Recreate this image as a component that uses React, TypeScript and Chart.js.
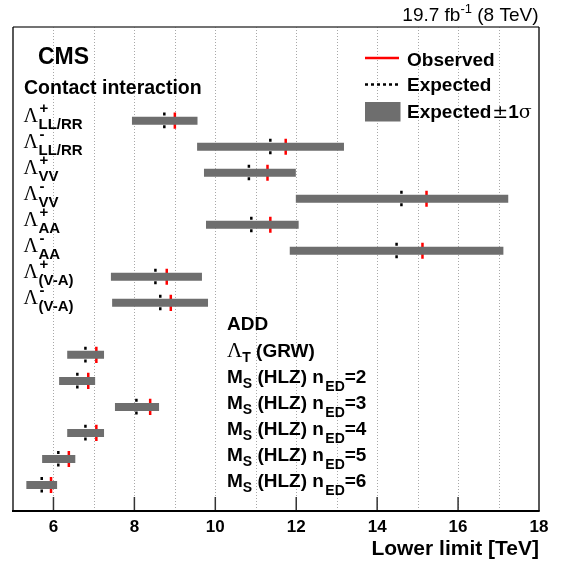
import React, { useEffect, useRef } from 'react';
import { Chart, registerables } from 'chart.js';

Chart.register(...registerables);

// ---------- data ----------
const contactSymbols = ['Λ', 'Λ', 'Λ', 'Λ', 'Λ', 'Λ', 'Λ', 'Λ'];
const contactSup = ['+', '-', '+', '-', '+', '-', '+', '-'];
const contactSub = ['LL/RR', 'LL/RR', 'VV', 'VV', 'AA', 'AA', '(V-A)', '(V-A)'];
const contactExpected = [8.74, 11.36, 10.83, 14.6, 10.89, 14.48, 8.52, 8.64];
const contactObserved = [9.0, 11.74, 11.29, 15.22, 11.36, 15.12, 8.8, 8.9];
const contactLow = [7.94, 9.55, 9.72, 11.99, 9.77, 11.84, 7.42, 7.45];
const contactHigh = [9.56, 13.18, 11.99, 17.24, 12.06, 17.12, 9.67, 9.82];

const addMain = ['Λ', 'M', 'M', 'M', 'M', 'M'];
const addMainSub = ['T', 'S', 'S', 'S', 'S', 'S'];
const addSuffix = [' (GRW)', ' (HLZ) n', ' (HLZ) n', ' (HLZ) n', ' (HLZ) n', ' (HLZ) n'];
const addNed = ['', '2', '3', '4', '5', '6'];
const addExpected = [6.79, 6.59, 8.05, 6.79, 6.12, 5.71];
const addObserved = [7.06, 6.86, 8.39, 7.06, 6.38, 5.94];
const addLow = [6.34, 6.14, 7.52, 6.34, 5.72, 5.33];
const addHigh = [7.25, 7.03, 8.61, 7.25, 6.54, 6.09];

const xTicks = [6, 8, 10, 12, 14, 16, 18];
const gridValues = [6, 7, 8, 9, 10, 11, 12, 13, 14, 15, 16, 17];
const X_MIN = 5;
const X_MAX = 18;

// ---------- styles ----------
const SANS = '"Liberation Sans", Arial, Helvetica, sans-serif';
const SERIF = '"Liberation Serif", "Times New Roman", serif';
const SYMBOL = '"DejaVu Serif", "Liberation Serif", serif';
const GRAY = '#6e6e6e';
const RED = '#ff0000';
const Y_MAX = 18.6;
const HALF = 0.31;

type Part = [string, string, number];

function drawParts(ctx: CanvasRenderingContext2D, x: number, y: number, parts: Part[], align: 'left' | 'right' = 'left') {
  let total = 0;
  const widths = parts.map(([t, f]) => {
    ctx.font = f;
    const w = ctx.measureText(t).width;
    total += w;
    return w;
  });
  let cx = align === 'right' ? x - total : x;
  parts.forEach(([t, f, dy], i) => {
    ctx.font = f;
    ctx.fillText(t, cx, y + dy);
    cx += widths[i];
  });
}

export default function App() {
  const ref = useRef<HTMLCanvasElement | null>(null);

  useEffect(() => {
    if (!ref.current) return;

    const contactPos = contactExpected.map((_, i) => 15 - i);
    const addPos = addExpected.map((_, j) => 6 - j);

    const rows = [
      ...contactExpected.map((e, i) => ({ pos: contactPos[i], lo: contactLow[i], hi: contactHigh[i], exp: e, obs: contactObserved[i] })),
      ...addExpected.map((e, j) => ({ pos: addPos[j], lo: addLow[j], hi: addHigh[j], exp: e, obs: addObserved[j] })),
    ];

    const band = rows.flatMap((r) => [
      { x: r.lo, y: r.pos },
      { x: r.hi, y: r.pos },
      { x: r.hi, y: null },
    ]);
    const expData = rows.flatMap((r) => [
      { x: r.exp, y: r.pos + HALF },
      { x: r.exp, y: r.pos - HALF },
      { x: r.exp, y: null },
    ]);
    const obsData = rows.flatMap((r) => [
      { x: r.obs, y: r.pos + HALF },
      { x: r.obs, y: r.pos - HALF },
      { x: r.obs, y: null },
    ]);

    const decor = {
      id: 'cmsDecor',
      beforeDatasetsDraw(chart: any) {
        const { ctx, chartArea: a, scales } = chart;
        const xs = scales.x;
        ctx.save();
        ctx.strokeStyle = '#a8a8a8';
        ctx.lineWidth = 1;
        ctx.setLineDash([1, 2]);
        for (const v of gridValues) {
          const px = Math.round(xs.getPixelForValue(v)) + 0.5;
          ctx.beginPath();
          ctx.moveTo(px, a.top);
          ctx.lineTo(px, a.bottom);
          ctx.stroke();
        }
        ctx.restore();
      },
      afterDatasetsDraw(chart: any) {
        const { ctx, chartArea: a, scales } = chart;
        const xs = scales.x;
        const ys = scales.y;
        ctx.save();

        // tick marks (upward from the bottom axis)
        ctx.strokeStyle = '#333';
        ctx.lineWidth = 1.5;
        for (const v of xTicks) {
          if (v >= X_MAX) continue;
          const px = xs.getPixelForValue(v);
          ctx.beginPath();
          ctx.moveTo(px, a.bottom);
          ctx.lineTo(px, a.bottom - 14);
          ctx.stroke();
        }

        // frame
        ctx.strokeStyle = '#444';
        ctx.lineWidth = 1.5;
        ctx.beginPath();
        ctx.moveTo(a.left, a.top);
        ctx.lineTo(a.right, a.top);
        ctx.stroke();
        ctx.strokeStyle = '#000';
        ctx.lineWidth = 1.3;
        ctx.beginPath();
        ctx.moveTo(a.left, a.top);
        ctx.lineTo(a.left, a.bottom);
        ctx.moveTo(a.right, a.top);
        ctx.lineTo(a.right, a.bottom);
        ctx.stroke();
        ctx.lineWidth = 2;
        ctx.beginPath();
        ctx.moveTo(a.left - 1, a.bottom);
        ctx.lineTo(a.right + 0.7, a.bottom);
        ctx.stroke();

        ctx.fillStyle = '#000';
        ctx.textBaseline = 'alphabetic';
        ctx.textAlign = 'left';

        // header texts
        drawParts(ctx, 538.5, 21, [
          ['19.7 fb', `19px ${SANS}`, 0],
          ['-1', `13px ${SANS}`, -8],
          [' (8 TeV)', `19px ${SANS}`, 0],
        ], 'right');
        drawParts(ctx, 38, 64, [['CMS', `bold 23px ${SANS}`, 0]]);
        drawParts(ctx, 24, 94, [['Contact interaction', `bold 19.5px ${SANS}`, 0]]);

        // contact labels
        contactSymbols.forEach((s, i) => {
          const py = ys.getPixelForValue(contactPos[i]);
          ctx.font = `20px ${SERIF}`;
          ctx.fillText(s, 23.5, py + 1);
          ctx.font = `bold 15px ${SANS}`;
          ctx.fillText(contactSup[i], 39.5, py - 7.5);
          ctx.fillText(contactSub[i], 38.5, py + 8.5);
        });

        // ADD block
        drawParts(ctx, 227, ys.getPixelForValue(7) + 1.5, [['ADD', `bold 19px ${SANS}`, 0]]);
        addMain.forEach((m, j) => {
          const py = ys.getPixelForValue(addPos[j]) + 2.5;
          const parts: Part[] = [
            [m, m === 'Λ' ? `21px ${SERIF}` : `bold 19px ${SANS}`, 0],
            [addMainSub[j], `bold 14px ${SANS}`, 5],
            [addSuffix[j], `bold 19px ${SANS}`, 0],
          ];
          if (addNed[j]) {
            parts.push([' ', `5px ${SANS}`, 0]);
            parts.push(['ED', `bold 14px ${SANS}`, 7.5]);
            parts.push(['=' + addNed[j], `bold 19px ${SANS}`, 0]);
          }
          drawParts(ctx, 227, py, parts);
        });

        // legend
        ctx.strokeStyle = RED;
        ctx.lineWidth = 2.5;
        ctx.beginPath();
        ctx.moveTo(365, 58);
        ctx.lineTo(399, 58);
        ctx.stroke();
        drawParts(ctx, 407, 65.5, [['Observed', `bold 19px ${SANS}`, 0]]);

        ctx.strokeStyle = '#000';
        ctx.setLineDash([3, 3]);
        ctx.beginPath();
        ctx.moveTo(365, 84.5);
        ctx.lineTo(399, 84.5);
        ctx.stroke();
        ctx.setLineDash([]);
        drawParts(ctx, 407, 91, [['Expected', `bold 19px ${SANS}`, 0]]);

        ctx.fillStyle = GRAY;
        ctx.fillRect(365, 102, 35.5, 19.5);
        ctx.fillStyle = '#000';
        drawParts(ctx, 407, 117.5, [
          ['Expected', `bold 19px ${SANS}`, 0],
          [' ', `3px ${SANS}`, 0],
          ['±', `19px ${SYMBOL}`, 0],
          ['1', `bold 19px ${SANS}`, 0],
          ['σ', `19px ${SYMBOL}`, 0],
        ]);

        // axis title
        drawParts(ctx, 539, 555, [['Lower limit [TeV]', `bold 21px ${SANS}`, 0]], 'right');

        ctx.restore();
      },
    };

    const chart = new Chart(ref.current, {
      type: 'scatter',
      data: {
        datasets: [
          {
            label: 'Expected ±1σ',
            data: band as any,
            showLine: true,
            borderColor: GRAY,
            borderWidth: 8,
            borderCapStyle: 'butt',
            pointRadius: 0,
            spanGaps: false,
          },
          {
            label: 'Expected',
            data: expData as any,
            showLine: true,
            borderColor: '#000',
            borderWidth: 2.5,
            borderDash: [3, 3.3],
            borderCapStyle: 'butt',
            pointRadius: 0,
            spanGaps: false,
          },
          {
            label: 'Observed',
            data: obsData as any,
            showLine: true,
            borderColor: RED,
            borderWidth: 2.5,
            borderCapStyle: 'butt',
            pointRadius: 0,
            spanGaps: false,
          },
        ],
      },
      options: {
        animation: false,
        responsive: false,
        events: [],
        layout: { padding: { left: 13, right: 26, top: 27, bottom: 0 } },
        plugins: {
          legend: { display: false },
          tooltip: { enabled: false },
          title: { display: false },
        },
        scales: {
          x: {
            type: 'linear',
            min: X_MIN,
            max: X_MAX,
            afterBuildTicks: (scale: any) => {
              scale.ticks = xTicks.map((v) => ({ value: v }));
            },
            afterFit: (scale: any) => {
              scale.height = 55;
            },
            grid: { display: false, drawTicks: false },
            border: { display: false },
            ticks: {
              color: '#000',
              padding: 6,
              maxRotation: 0,
              autoSkip: false,
              font: { family: SANS, size: 17, weight: 'bold' },
              callback: (v: any) => String(v),
            },
          },
          y: {
            type: 'linear',
            display: false,
            min: 0,
            max: Y_MAX,
          },
        },
      },
      plugins: [decor],
    } as any);

    return () => chart.destroy();
  }, []);

  return (
    <div style={{ position: 'fixed', left: 0, top: 0, width: 565, height: 566, background: '#fff' }}>
      <canvas ref={ref} width={565} height={566} style={{ width: 565, height: 566, display: 'block' }} />
    </div>
  );
}
